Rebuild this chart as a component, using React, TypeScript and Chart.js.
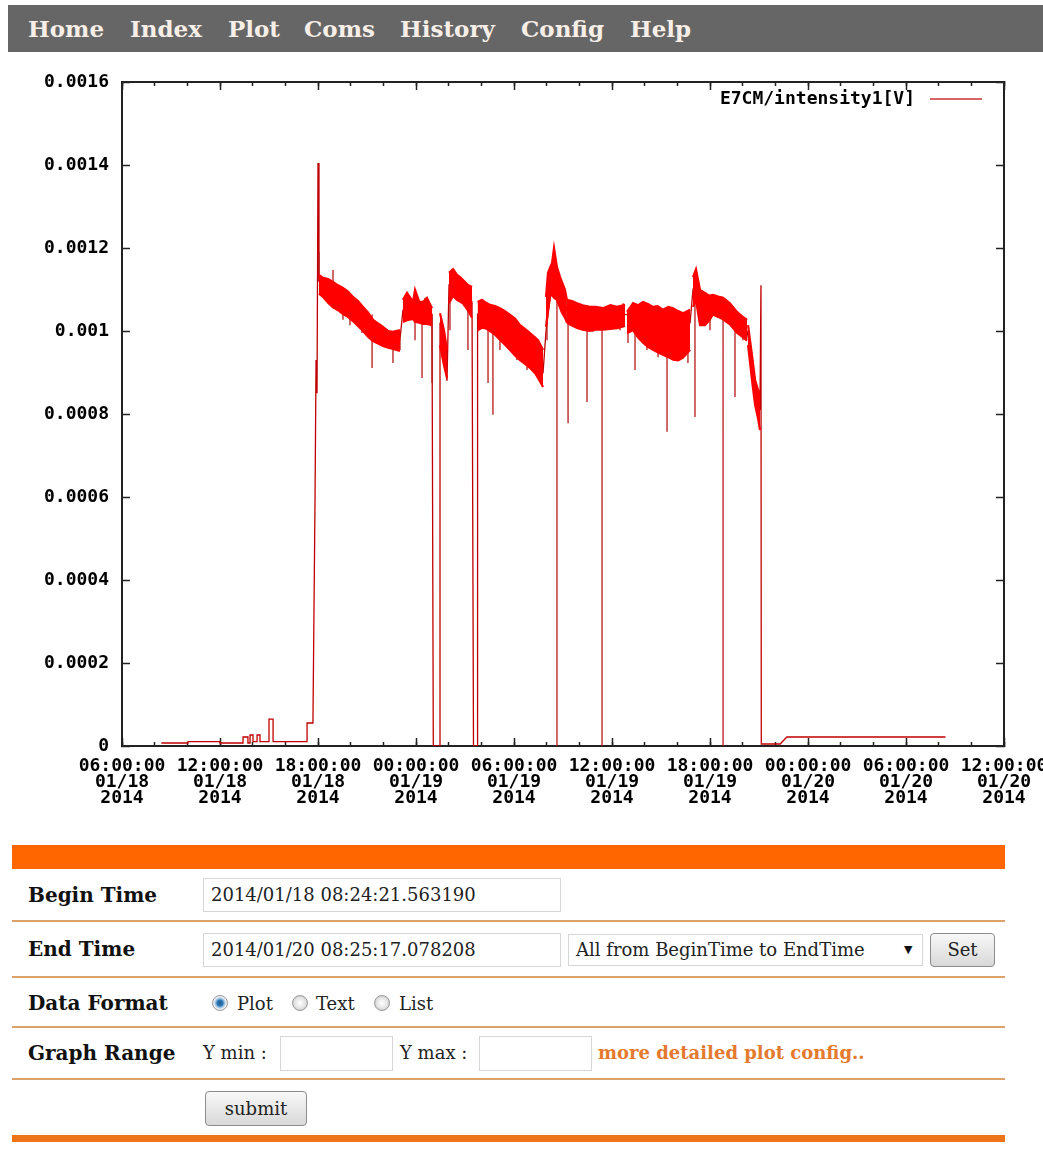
import React, { useEffect, useRef } from 'react';
import { Chart, registerables } from 'chart.js';

Chart.register(...registerables);

// ---------- data (x = hours since 2014/01/18 06:00:00, y = volts) ----------
const seriesLabel = 'E7CM/intensity1[V]';

const xTickLabels: string[][] = [
  ['06:00:00', '01/18', '2014'],
  ['12:00:00', '01/18', '2014'],
  ['18:00:00', '01/18', '2014'],
  ['00:00:00', '01/19', '2014'],
  ['06:00:00', '01/19', '2014'],
  ['12:00:00', '01/19', '2014'],
  ['18:00:00', '01/19', '2014'],
  ['00:00:00', '01/20', '2014'],
  ['06:00:00', '01/20', '2014'],
  ['12:00:00', '01/20', '2014'],
];

const yTickLabels = ['0', '0.0002', '0.0004', '0.0006', '0.0008', '0.001', '0.0012', '0.0014', '0.0016'];

// main trace (step-like transitions, drops to zero, baseline)
const traceHours = [
  2.41, 4.04, 4.04, 6.0, 6.0, 7.41, 7.41, 7.71, 7.71, 7.84, 7.84, 8.02, 8.02, 8.27, 8.27, 8.45, 8.45,
  9.0, 9.0, 9.25, 9.25, 11.33, 11.33, 11.69, 11.82, 11.88, 11.94, 12.0, 12.06,
  17.02, 17.2, 18.98, 19.06, 19.47, 19.47, 19.9, 20.02, 21.43, 21.52, 21.77, 21.77,
  25.78, 25.96, 26.45, 27.24, 30.8, 34.78, 34.96, 38.27, 39.06, 39.12, 39.14,
  40.3, 40.47, 40.71, 50.42,
];
const traceValues = [
  0.0000072, 0.0000072, 0.0000104, 0.0000104, 0.0000072, 0.0000072, 0.0000217, 0.0000217, 0.0000072,
  0.0000072, 0.0000265, 0.0000265, 0.0000104, 0.0000104, 0.0000265, 0.0000265, 0.0000104,
  0.0000104, 0.000065, 0.000065, 0.0000104, 0.0000104, 0.0000554, 0.0000554, 0.000602, 0.00093, 0.00085,
  0.001405, 0.00112,
  0.00098, 0.00105, 0.00104, 0, 0, 0.00102, 0.00088, 0.00111, 0.00107, 0, 0, 0.00104,
  0.0009, 0.001, 0.00115, 0.00105, 0.00104, 0.00102, 0.0011, 0.001, 0.00081, 0.00111, 0.0000048,
  0.0000048, 0.000012, 0.0000217, 0.0000217,
];

// noisy band envelopes (upper / lower) for each continuous stretch
const bandHours: number[][] = [
  [12.06, 12.31, 12.62, 12.92, 13.23, 13.53, 13.84, 14.14, 14.45, 14.76, 15.06, 15.37, 15.68, 15.98, 16.29, 16.59, 17.02],
  [17.2, 17.45, 17.82, 17.94, 18.2, 18.43, 18.67, 18.98],
  [19.47, 19.71, 19.9],
  [20.02, 20.27, 20.51, 20.7, 20.88, 21.18, 21.43],
  [21.77, 22.04, 22.29, 22.53, 22.84, 23.14, 23.45, 23.76, 24.06, 24.37, 24.67, 24.98, 25.28, 25.47, 25.78],
  [25.96, 26.08, 26.2, 26.33, 26.45, 26.63, 26.82, 26.94, 27.12, 27.24],
  [27.24, 27.55, 27.86, 28.2, 28.65, 29.0, 29.45, 29.9, 30.31, 30.8],
  [30.92, 31.29, 31.6, 31.9, 32.2, 32.51, 32.8, 33.12, 33.45, 33.74, 34.05, 34.35, 34.78],
  [34.96, 35.14, 35.39, 35.69, 35.95, 36.18, 36.5, 36.8, 37.22, 37.65, 37.95, 38.27],
  [38.33, 38.57, 38.76, 38.94, 39.06],
];
const bandUpper: number[][] = [
  [0.001135, 0.001128, 0.001125, 0.001118, 0.00111, 0.001104, 0.001095, 0.001082, 0.001072, 0.001058, 0.001045, 0.001027, 0.001018, 0.00101, 0.001, 0.000998, 0.001002],
  [0.001075, 0.001092, 0.00107, 0.001099, 0.00107, 0.00107, 0.00108, 0.001055],
  [0.001043, 0.001002, 0.000954],
  [0.00114, 0.001149, 0.001135, 0.00113, 0.001123, 0.001111, 0.001106],
  [0.00107, 0.001075, 0.001068, 0.001063, 0.00106, 0.001055, 0.001048, 0.001039, 0.00103, 0.001014, 0.001005, 0.000995, 0.000985, 0.000978, 0.000954],
  [0.001082, 0.00114, 0.001152, 0.001164, 0.0012, 0.001154, 0.00113, 0.001118, 0.001099, 0.001075],
  [0.001075, 0.001072, 0.001067, 0.001062, 0.001058, 0.001058, 0.001055, 0.001062, 0.001058, 0.001063],
  [0.001046, 0.001067, 0.001062, 0.00107, 0.001065, 0.001058, 0.00106, 0.001051, 0.001058, 0.001055, 0.001048, 0.001043, 0.001051],
  [0.00113, 0.001149, 0.001099, 0.001092, 0.001085, 0.001087, 0.001083, 0.00108, 0.001067, 0.001046, 0.001036, 0.001027],
  [0.001014, 0.000942, 0.000882, 0.000858, 0.000853],
];
const bandLower: number[][] = [
  [0.00109, 0.001082, 0.001068, 0.001057, 0.00105, 0.001041, 0.001034, 0.001024, 0.001012, 0.001, 0.000986, 0.000976, 0.00097, 0.000964, 0.00096, 0.000957, 0.000952],
  [0.001022, 0.001026, 0.001029, 0.001022, 0.00102, 0.001017, 0.001017, 0.001014],
  [0.000966, 0.000918, 0.000887],
  [0.001067, 0.001085, 0.001075, 0.001071, 0.001066, 0.00105, 0.001032],
  [0.001002, 0.001008, 0.001006, 0.001, 0.000991, 0.000979, 0.000967, 0.000954, 0.000941, 0.00093, 0.000921, 0.000911, 0.000899, 0.000887, 0.000865],
  [0.00101, 0.001051, 0.001086, 0.001086, 0.00108, 0.001075, 0.001056, 0.001044, 0.001032, 0.00102],
  [0.00102, 0.001013, 0.001007, 0.001003, 0.001, 0.001003, 0.001003, 0.001005, 0.001007, 0.001012],
  [0.000995, 0.001002, 0.000984, 0.000972, 0.000962, 0.000955, 0.000949, 0.000943, 0.000937, 0.000931, 0.000929, 0.000936, 0.000955],
  [0.001058, 0.001075, 0.001014, 0.001014, 0.001025, 0.00104, 0.001034, 0.001028, 0.001016, 0.000996, 0.000987, 0.000977],
  [0.000966, 0.000882, 0.000822, 0.00079, 0.000761],
];

// isolated glitches: x, value before the glitch, glitch value
const spikeHours = [
  12.06, 12.92, 13.53, 13.96, 14.69, 15.31, 15.92, 16.59, 17.02, 17.94, 18.37, 18.55, 18.98,
  20.08, 21.18, 22.41, 22.71, 23.14, 24.18, 24.8, 25.41, 26.02, 26.63, 27.31, 28.47, 28.84,
  29.39, 29.88, 30.49, 30.68, 30.98, 31.41, 32.14, 32.82, 33.37, 34.04, 34.65, 35.08, 36.0,
  36.8, 37.53, 38.02,
];
const spikeFrom = [
  0.00112, 0.00111, 0.00107, 0.00108, 0.00105, 0.00104, 0.00101, 0.001, 0.00098, 0.00106, 0.00105, 0.00105, 0.00104,
  0.0011, 0.00108, 0.00104, 0.00104, 0.00102, 0.00098, 0.00097, 0.00094, 0.00106, 0.00112, 0.00105, 0.00103, 0.00104,
  0.00103, 0.00104, 0.00104, 0.00104, 0.00103, 0.00103, 0.00102, 0.001, 0.001, 0.00099, 0.001, 0.00108, 0.00106,
  0.00106, 0.00104, 0.00101,
];
const spikeTo = [
  0.00119, 0.001147, 0.001027, 0.001014, 0.000995, 0.000911, 0.000978, 0.000923, 0.000954, 0.000978, 0.000887, 0.00108, 0.000875,
  0.001002, 0.000954, 0.000875, 0.000798, 0.000954, 0.00093, 0.000906, 0.000899, 0.000978, 0, 0.000778, 0.000829, 0.000998,
  0, 0.00101, 0.001002, 0.001067, 0.000971, 0.000906, 0.000954, 0.000937, 0.000757, 0.00093, 0.000923, 0.000793, 0.001002,
  0, 0.000841, 0.000978,
];

// ---------- component ----------
const navItems = ['Home', 'Index', 'Plot', 'Coms', 'History', 'Config', 'Help'];
const navLeft = [28, 130, 228, 304, 400, 521, 630];

const tickFont = { family: '"DejaVu Sans Mono", monospace', weight: 'bold' as const, size: 18, lineHeight: 16 / 18 };
const serif = '"DejaVu Serif", serif';
const sepColor = '#dba36b';

const legendPlugin = {
  id: 'insideLegend',
  afterDraw(chart: any) {
    const { ctx, chartArea } = chart;
    const ds = chart.data.datasets[0];
    const y = chartArea.top + 17;
    ctx.save();
    ctx.font = 'bold 18px "DejaVu Sans Mono", monospace';
    ctx.fillStyle = '#000';
    ctx.textAlign = 'right';
    ctx.textBaseline = 'middle';
    ctx.fillText(ds.label, chartArea.right - 89, y);
    ctx.strokeStyle = '#c83030';
    ctx.lineWidth = 1.5;
    ctx.beginPath();
    ctx.moveTo(chartArea.right - 74, y);
    ctx.lineTo(chartArea.right - 22, y);
    ctx.stroke();
    ctx.restore();
  },
};

function makeTickAxis(axis: 'x' | 'y', position: string, step: number, len: number, min: number, max: number, weight: number) {
  return {
    type: 'linear',
    axis,
    position,
    min,
    max,
    weight,
    ticks: { stepSize: step, display: false },
    grid: { drawOnChartArea: false, tickLength: len, tickColor: '#222', tickWidth: 1.5 },
    border: { display: true, color: '#222', width: 2 },
    afterFit: (s: any) => {
      if (axis === 'x') s.height = 0;
      else s.width = 0;
      s.paddingLeft = 0;
      s.paddingRight = 0;
      s.paddingTop = 0;
      s.paddingBottom = 0;
    },
  };
}

function PlotChart() {
  const ref = useRef<HTMLCanvasElement | null>(null);
  useEffect(() => {
    if (!ref.current) return;
    const datasets: any[] = [];
    datasets.push({
      label: seriesLabel,
      data: traceHours.map((h, i) => ({ x: h, y: traceValues[i] })),
      borderColor: '#c00000',
      borderWidth: 1.3,
      pointRadius: 0,
      fill: false,
      tension: 0,
      order: 10,
    });
    bandHours.forEach((hs, b) => {
      datasets.push({
        label: 'band-upper',
        data: hs.map((h, i) => ({ x: h, y: bandUpper[b][i] })),
        borderColor: '#ff0000',
        backgroundColor: '#ff0000',
        borderWidth: 2.2,
        pointRadius: 0,
        fill: '+1',
        tension: 0,
        order: 0,
      });
      datasets.push({
        label: 'band-lower',
        data: hs.map((h, i) => ({ x: h, y: bandLower[b][i] })),
        borderColor: '#ff0000',
        borderWidth: 2.2,
        pointRadius: 0,
        fill: false,
        tension: 0,
        order: 0,
      });
    });
    const spikeData: any[] = [];
    spikeHours.forEach((h, i) => {
      spikeData.push({ x: h, y: spikeFrom[i] }, { x: h, y: spikeTo[i] }, { x: h, y: null });
    });
    datasets.push({
      label: 'glitches',
      data: spikeData,
      borderColor: '#b81818',
      borderWidth: 1.3,
      pointRadius: 0,
      fill: false,
      spanGaps: false,
      order: 5,
    });

    const chart = new Chart(ref.current, {
      type: 'line',
      data: { datasets },
      plugins: [legendPlugin],
      options: {
        animation: false,
        responsive: false,
        devicePixelRatio: 1,
        layout: { autoPadding: false, padding: { left: 0, right: 39, top: 27, bottom: 0 } },
        plugins: { legend: { display: false }, tooltip: { enabled: false } },
        scales: {
          x: {
            type: 'linear',
            position: 'bottom',
            min: 0,
            max: 54,
            weight: 1,
            ticks: {
              stepSize: 6,
              autoSkip: false,
              maxRotation: 0,
              minRotation: 0,
              padding: 20,
              color: '#000',
              font: tickFont,
              callback: (_v: any, i: number) => xTickLabels[i] ?? '',
            },
            grid: { drawOnChartArea: false, tickLength: -8, tickColor: '#222', tickWidth: 1.5 },
            border: { display: true, color: '#222', width: 2 },
            afterFit: (s: any) => {
              s.height = 69;
              s.paddingLeft = 0;
              s.paddingRight = 0;
            },
          },
          xMinor: makeTickAxis('x', 'bottom', 2, -4, 0, 54, 0),
          xTop: makeTickAxis('x', 'top', 6, -8, 0, 54, 0),
          xTopMinor: makeTickAxis('x', 'top', 2, -4, 0, 54, 1),
          y: {
            type: 'linear',
            position: 'left',
            min: 0,
            max: 0.0016,
            ticks: {
              stepSize: 0.0002,
              padding: 21,
              color: '#000',
              font: tickFont,
              callback: (_v: any, i: number) => yTickLabels[i] ?? '',
            },
            grid: { drawOnChartArea: false, tickLength: -8, tickColor: '#222', tickWidth: 1.5 },
            border: { display: true, color: '#222', width: 2 },
            afterFit: (s: any) => {
              s.width = 122;
              s.paddingTop = 0;
              s.paddingBottom = 0;
            },
          },
          yRight: makeTickAxis('y', 'right', 0.0002, -8, 0, 0.0016, 0),
        },
      } as any,
    });
    return () => chart.destroy();
  }, []);
  return <canvas ref={ref} width={1043} height={760} style={{ display: 'block', width: 1043, height: 760 }} />;
}

const labelStyle = (top: number): React.CSSProperties => ({
  position: 'absolute',
  left: 28,
  top,
  lineHeight: '30px',
  fontSize: 20,
  fontWeight: 'bold',
  color: '#111',
  whiteSpace: 'nowrap',
});

const boxStyle = (left: number, top: number, width: number, height: number): React.CSSProperties => ({
  position: 'absolute',
  left,
  top,
  width,
  height,
  boxSizing: 'border-box',
  border: '1px solid #d6d6d6',
  background: '#fff',
  fontSize: 18,
  lineHeight: `${height - 2}px`,
  paddingLeft: 7,
  color: '#222',
  whiteSpace: 'nowrap',
  overflow: 'hidden',
});

const buttonStyle = (left: number, top: number, width: number, height: number): React.CSSProperties => ({
  position: 'absolute',
  left,
  top,
  width,
  height,
  boxSizing: 'border-box',
  border: '1px solid #8c8c8c',
  borderRadius: 4,
  background: 'linear-gradient(#f8f8f8, #d8d8d8)',
  fontSize: 18,
  lineHeight: `${height - 2}px`,
  textAlign: 'center',
  color: '#222',
});

const radioStyle = (left: number, checked: boolean): React.CSSProperties => ({
  position: 'absolute',
  left,
  top: 995,
  width: 16,
  height: 16,
  boxSizing: 'border-box',
  borderRadius: '50%',
  border: '1px solid #9a9a9a',
  background: checked
    ? 'radial-gradient(circle, #1f5f95 0, #2f78b5 3px, #7fb0d8 4px, #e8eef4 6px)'
    : 'radial-gradient(circle, #ffffff 0, #e6e6e6 5px, #c8c8c8 8px)',
});

const textAt = (left: number, centerY: number, text: string, extra: React.CSSProperties = {}) => (
  <div
    style={{
      position: 'absolute',
      left,
      top: centerY - 15,
      lineHeight: '30px',
      fontSize: 18,
      color: '#222',
      whiteSpace: 'nowrap',
      ...extra,
    }}
  >
    {text}
  </div>
);

export default function App() {
  return (
    <div
      style={{
        position: 'absolute',
        left: 0,
        top: 0,
        width: 1043,
        height: 1170,
        overflow: 'hidden',
        background: '#fff',
        fontFamily: serif,
      }}
    >
      <div style={{ position: 'absolute', left: 8, top: 5, width: 1035, height: 47, background: '#666666' }}>
        {navItems.map((t, i) => (
          <span
            key={t}
            style={{
              position: 'absolute',
              left: navLeft[i] - 8,
              top: 0,
              lineHeight: '47px',
              fontSize: 23,
              fontWeight: 'bold',
              color: '#f7efe7',
              whiteSpace: 'nowrap',
            }}
          >
            {t}
          </span>
        ))}
      </div>

      <div style={{ position: 'absolute', left: 0, top: 55, width: 1043, height: 760 }}>
        <PlotChart />
      </div>

      <div style={{ position: 'absolute', left: 12, top: 845, width: 993, height: 24, background: '#ff6600' }} />

      <div style={labelStyle(880)}>Begin Time</div>
      <div style={boxStyle(203, 878, 358, 34)}>2014/01/18 08:24:21.563190</div>
      <div style={{ position: 'absolute', left: 12, top: 920, width: 993, height: 2, background: sepColor }} />

      <div style={labelStyle(934)}>End Time</div>
      <div style={boxStyle(203, 933, 358, 34)}>2014/01/20 08:25:17.078208</div>
      <div style={boxStyle(568, 934, 355, 32)}>All from BeginTime to EndTime</div>
      <div style={{ position: 'absolute', left: 904, top: 943, fontSize: 11, lineHeight: '14px', color: '#111' }}>▼</div>
      <div style={buttonStyle(930, 933, 65, 34)}>Set</div>
      <div style={{ position: 'absolute', left: 12, top: 976, width: 993, height: 2, background: sepColor }} />

      <div style={labelStyle(988)}>Data Format</div>
      <div style={radioStyle(212, true)} />
      {textAt(237, 1004, 'Plot')}
      <div style={radioStyle(292, false)} />
      {textAt(316, 1004, 'Text')}
      <div style={radioStyle(374, false)} />
      {textAt(399, 1004, 'List')}
      <div style={{ position: 'absolute', left: 12, top: 1026, width: 993, height: 2, background: sepColor }} />

      <div style={labelStyle(1038)}>Graph Range</div>
      {textAt(203, 1053, 'Y min :')}
      <div style={boxStyle(280, 1036, 113, 35)} />
      {textAt(400, 1053, 'Y max :')}
      <div style={boxStyle(479, 1036, 113, 35)} />
      {textAt(598, 1053, 'more detailed plot config..', { color: '#e57a2e', fontWeight: 'bold' })}
      <div style={{ position: 'absolute', left: 12, top: 1078, width: 993, height: 2, background: sepColor }} />

      <div style={buttonStyle(205, 1091, 102, 35)}>submit</div>

      <div style={{ position: 'absolute', left: 12, top: 1135, width: 993, height: 7, background: '#ee7419' }} />
    </div>
  );
}
